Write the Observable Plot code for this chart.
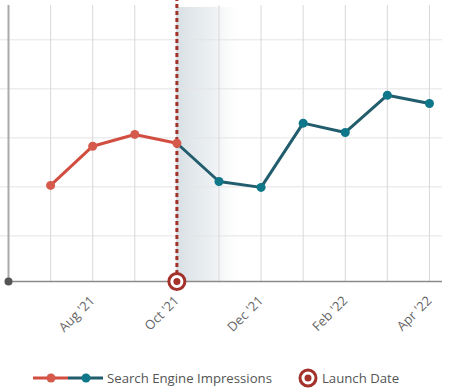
<!DOCTYPE html>
<html>
<head>
<meta charset="utf-8">
<script src="https://cdn.jsdelivr.net/npm/d3@7"></script>
<script src="https://cdn.jsdelivr.net/npm/@observablehq/plot@0.6"></script>
<style>
  html, body { margin: 0; padding: 0; background: #fff; }
  body { width: 454px; height: 390px; position: relative; overflow: hidden; font-family: "Open Sans", sans-serif; }
  #legend { position: absolute; left: 33px; top: 368px; display: flex; align-items: center; font-size: 13.2px; color: #555; height: 20px; }
  #legend .item { display: flex; align-items: center; }
  #legend svg { display: block; }
</style>
</head>
<body>
<div id="chart"></div>
<div id="legend"></div>
<script>
// ---- data ----
const months = ["Jun '21","Jul '21","Aug '21","Sep '21","Oct '21","Nov '21","Dec '21","Jan '22","Feb '22","Mar '22","Apr '22"];
const impressions = [null, 2030, 2830, 3070, 2890, 2110, 1990, 3300, 3110, 3870, 3700];
const launchMonth = "Oct '21";
const tickLabels = ["Aug '21","Oct '21","Dec '21","Feb '22","Apr '22"];
const gridValues = [1000, 2000, 3000, 4000, 5000];
const seriesName = "Search Engine Impressions";
const launchName = "Launch Date";

// ---- derived ----
const launchIdx = months.indexOf(launchMonth);
const points = months.map((m, i) => ({i, month: m, value: impressions[i]})).filter(d => d.value != null);
const before = points.filter(d => d.i <= launchIdx);
const after = points.filter(d => d.i >= launchIdx);
const afterDots = points.filter(d => d.i > launchIdx);
const tickIdx = tickLabels.map(t => months.indexOf(t));

const yMin = 70, yMax = 5700;
const xMax = 10.31;
const red = "#d14e41", redDot = "#d65a4c";
const teal = "#225d6d", tealDot = "#0e7789";
const launchRed = "#a3322b";

const chart = Plot.plot({
  width: 454,
  height: 340,
  marginLeft: 8,
  marginRight: 12,
  marginTop: 5,
  marginBottom: 59,
  style: {fontFamily: "'Open Sans', sans-serif", background: "#fff", overflow: "visible"},
  x: {type: "linear", domain: [0, xMax], axis: null},
  y: {domain: [yMin, yMax], axis: null},
  marks: [
    Plot.rect([{a: launchIdx, b: launchIdx + 2}], {x1: "a", x2: "b", y1: yMin, y2: yMax - 40, fill: "url(#launchShade)"}),
    Plot.ruleY(gridValues, {x1: -0.19, x2: xMax, stroke: "#e4e4e4", strokeWidth: 1}),
    Plot.ruleX(d3.range(1, months.length), {y1: yMin, y2: yMax, stroke: "#d8d8d8", strokeWidth: 1}),
    Plot.ruleX([0], {y1: yMin, y2: yMax, stroke: "#aaaaaa", strokeWidth: 2}),
    Plot.ruleY([yMin], {x1: 0, x2: xMax, stroke: "#8a8a8a", strokeWidth: 1.5}),
    Plot.dot([0], {x: d => d, y: yMin, r: 4, fill: "#555", stroke: "none"}),
    Plot.ruleX([launchIdx], {y1: yMin, y2: yMax + 100, stroke: launchRed, strokeWidth: 3, strokeDasharray: "4,3"}),
    Plot.line(after, {x: "i", y: "value", stroke: teal, strokeWidth: 3}),
    Plot.line(before, {x: "i", y: "value", stroke: red, strokeWidth: 3}),
    Plot.dot(afterDots, {x: "i", y: "value", r: 4.5, fill: tealDot, stroke: "none"}),
    Plot.dot(before, {x: "i", y: "value", r: 4.5, fill: redDot, stroke: "none"}),
    Plot.dot([launchIdx], {x: d => d, y: yMin, r: 8, fill: "#fff", stroke: launchRed, strokeWidth: 3}),
    Plot.dot([launchIdx], {x: d => d, y: yMin, r: 3.5, fill: launchRed, stroke: "none"}),
    Plot.text(tickIdx, {x: d => d, y: yMin, text: (d, k) => tickLabels[k], rotate: -45, textAnchor: "end", lineAnchor: "middle", dx: 0, dy: 17, fill: "#666", fontSize: 13})
  ]
});

// gradient definition for the post-launch shading
const defs = d3.select(chart).insert("defs", ":first-child");
const grad = defs.append("linearGradient").attr("id", "launchShade").attr("x1", "0").attr("x2", "1").attr("y1", "0").attr("y2", "0");
grad.append("stop").attr("offset", "0").attr("stop-color", "#d9e1e5").attr("stop-opacity", 1);
grad.append("stop").attr("offset", "0.45").attr("stop-color", "#eef1f3").attr("stop-opacity", 1);
grad.append("stop").attr("offset", "0.8").attr("stop-color", "#ffffff").attr("stop-opacity", 0);
document.getElementById("chart").appendChild(chart);

// legend
const legend = d3.select("#legend");
const it1 = legend.append("div").attr("class", "item");
const s1 = it1.append("svg").attr("width", 74).attr("height", 14);
s1.append("line").attr("x1", 0).attr("x2", 35).attr("y1", 7).attr("y2", 7).attr("stroke", red).attr("stroke-width", 3);
s1.append("line").attr("x1", 35).attr("x2", 70).attr("y1", 7).attr("y2", 7).attr("stroke", teal).attr("stroke-width", 3);
s1.append("circle").attr("cx", 18).attr("cy", 7).attr("r", 4.5).attr("fill", redDot);
s1.append("circle").attr("cx", 53).attr("cy", 7).attr("r", 4.5).attr("fill", tealDot);
it1.append("span").text(seriesName);
const it2 = legend.append("div").attr("class", "item").style("margin-left", "26px");
const s2 = it2.append("svg").attr("width", 24).attr("height", 22);
s2.append("circle").attr("cx", 10).attr("cy", 11).attr("r", 8).attr("fill", "#fff").attr("stroke", launchRed).attr("stroke-width", 3);
s2.append("circle").attr("cx", 10).attr("cy", 11).attr("r", 3.5).attr("fill", launchRed);
it2.append("span").text(launchName);
</script>
</body>
</html>
